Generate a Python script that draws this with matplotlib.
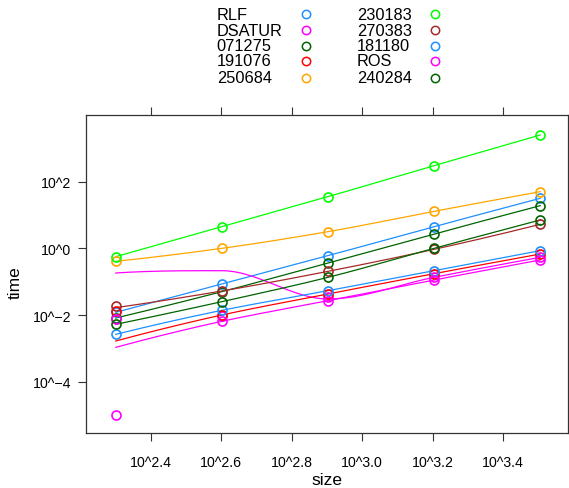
import numpy as np
import matplotlib
matplotlib.use("Agg")
import matplotlib.pyplot as plt
from matplotlib.lines import Line2D

plt.rcParams['font.family'] = ['Liberation Sans', 'DejaVu Sans']

# ---- data (log10 scale) ----
sizes = [200, 400, 800, 1600, 3200]
series_names = ["RLF", "DSATUR", "071275", "191076", "250684",
                "230183", "270383", "181180", "ROS", "240284"]
series_colors = ["#1E90FF", "#FF00FF", "#006400", "#FF0000", "#FFA500",
                 "#00FF00", "#A52A2A", "#1E90FF", "#FF00FF", "#006400"]

# observed log10(time)
RLF = [-1.92, -1.07, -0.22, 0.65, 1.50]
DSATUR = [-4.99, -2.04, -1.47, -0.85, -0.25]
s071275 = [-2.09, -1.30, -0.44, 0.43, 1.28]
s191076 = [-1.87, -2.00, -1.37, -0.76, -0.17]
s250684 = [-0.39, 0.00, 0.50, 1.11, 1.70]
s230183 = [-0.25, 0.65, 1.55, 2.48, 3.40]
s270383 = [-1.73, -1.28, -0.69, -0.03, 0.72]
s181180 = [-2.58, -1.86, -1.27, -0.67, -0.07]
ROS = [-2.13, -2.19, -1.57, -0.95, -0.35]
s240284 = [-2.28, -1.60, -0.87, 0.00, 0.85]

# smoothed fit values (log10) at the same sizes
RLF_fit = [-1.92, -1.07, -0.22, 0.65, 1.50]
DSATUR_fit = [-0.74, -0.67, -1.52, -0.87, -0.27]
s071275_fit = [-2.09, -1.30, -0.44, 0.43, 1.28]
s191076_fit = [-2.78, -2.00, -1.37, -0.76, -0.17]
s250684_fit = [-0.39, 0.00, 0.50, 1.11, 1.70]
s230183_fit = [-0.25, 0.65, 1.55, 2.48, 3.40]
s270383_fit = [-1.78, -1.28, -0.69, -0.03, 0.72]
s181180_fit = [-2.58, -1.86, -1.27, -0.67, -0.07]
ROS_fit = [-2.97, -2.19, -1.57, -0.95, -0.35]
s240284_fit = [-2.28, -1.60, -0.87, 0.00, 0.85]

points = [RLF, DSATUR, s071275, s191076, s250684, s230183, s270383, s181180, ROS, s240284]
fits = [RLF_fit, DSATUR_fit, s071275_fit, s191076_fit, s250684_fit,
        s230183_fit, s270383_fit, s181180_fit, ROS_fit, s240284_fit]

xticks = [2.4, 2.6, 2.8, 3.0, 3.2, 3.4]
xtick_labels = ["10^2.4", "10^2.6", "10^2.8", "10^3.0", "10^3.2", "10^3.4"]
yticks = [-4, -2, 0, 2]
ytick_labels = ["10^\u22124", "10^\u22122", "10^0", "10^2"]


def pchip(x, y, xn):
    x = np.asarray(x, float); y = np.asarray(y, float)
    h = np.diff(x); d = np.diff(y) / h
    n = len(x); m = np.zeros(n)
    for k in range(1, n - 1):
        if d[k - 1] * d[k] > 0:
            w1 = 2 * h[k] + h[k - 1]; w2 = h[k] + 2 * h[k - 1]
            m[k] = (w1 + w2) / (w1 / d[k - 1] + w2 / d[k])
    def endslope(h0, h1, d0, d1):
        s = ((2 * h0 + h1) * d0 - h0 * d1) / (h0 + h1)
        if np.sign(s) != np.sign(d0):
            s = 0.0
        elif np.sign(d0) != np.sign(d1) and abs(s) > abs(3 * d0):
            s = 3 * d0
        return s
    m[0] = endslope(h[0], h[1], d[0], d[1])
    m[-1] = endslope(h[-1], h[-2], d[-1], d[-2])
    idx = np.clip(np.searchsorted(x, xn) - 1, 0, n - 2)
    t = (xn - x[idx]) / h[idx]
    h00 = 2 * t**3 - 3 * t**2 + 1; h10 = t**3 - 2 * t**2 + t
    h01 = -2 * t**3 + 3 * t**2; h11 = t**3 - t**2
    return h00 * y[idx] + h10 * h[idx] * m[idx] + h01 * y[idx + 1] + h11 * h[idx] * m[idx + 1]


W, H = 569, 489
fig = plt.figure(figsize=(W / 100, H / 100), dpi=100)
ax = fig.add_axes([86 / W, 1 - 434 / H, (568 - 86) / W, (434 - 116) / H])

lx = np.log10(sizes)
grid = np.linspace(lx[0], lx[-1], 200)
for pts, ft, col in zip(points, fits, series_colors):
    ax.plot(grid, pchip(lx, ft, grid), color=col, lw=0.9, zorder=2)
    ax.plot(lx, pts, linestyle='none', marker='o', ms=6.5, mfc='none',
            mec=col, mew=1.2, zorder=3)

ax.set_xlim(2.2166, 3.584)
ax.set_ylim(-5.54, 4.0)
ax.set_xticks(xticks)
ax.set_xticklabels(xtick_labels)
ax.set_yticks(yticks)
ax.set_yticklabels(ytick_labels)
ax.tick_params(axis='both', direction='out', length=6, width=0.8, labelsize=10.2,
               color='#333333')
ax.tick_params(axis='x', top=True, pad=10)
ax.tick_params(axis='y', pad=4.5)
for sp in ax.spines.values():
    sp.set_linewidth(0.9)
    sp.set_color('#333333')

fig.text(327 / W, 1 - 481 / H, "size", ha='center', va='center', fontsize=12.5)
fig.text(15 / W, 1 - 283 / H, "time", ha='center', va='center', fontsize=12.5,
         rotation=90)

# legend
rows_y = [15, 31, 46.5, 62, 78.5]
for i, (name, col) in enumerate(zip(series_names, series_colors)):
    c = i // 5; r = i % 5
    tx = 216.7 if c == 0 else 356.7
    mx = 306 if c == 0 else 435
    yy = 1 - rows_y[r] / H
    fig.text(tx / W, yy, name, ha='left', va='center', fontsize=11.8)
    fig.add_artist(Line2D([mx / W], [yy], marker='o', ms=6, mfc='none', mec=col,
                          mew=1.1, linestyle='none', transform=fig.transFigure))

fig.savefig("out.png", dpi=100)
